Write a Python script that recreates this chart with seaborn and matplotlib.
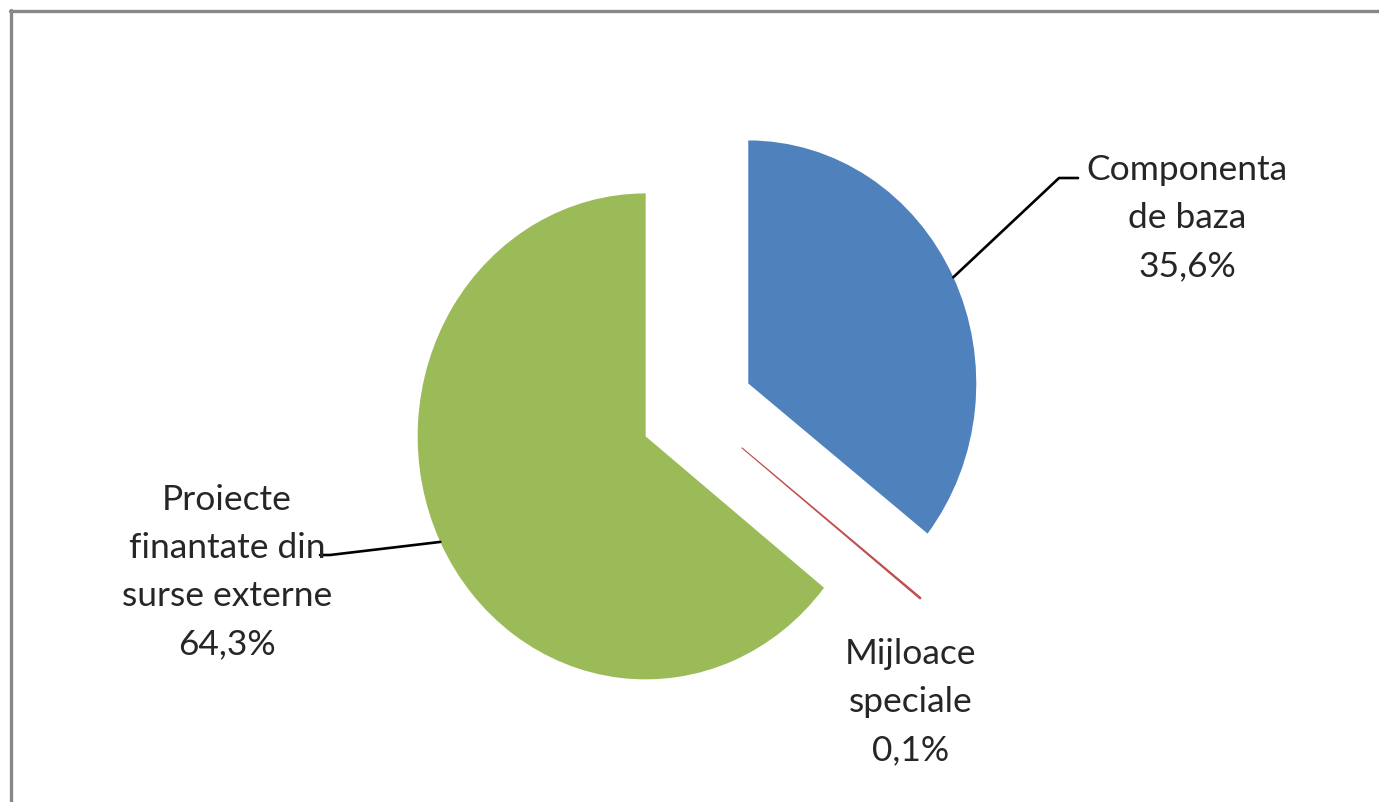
import numpy as np
import matplotlib
matplotlib.use("Agg")
import matplotlib.pyplot as plt
import seaborn as sns
from matplotlib.lines import Line2D

# ---- data ----
categories = ["Componenta\nde baza", "Mijloace\nspeciale", "Proiecte\nfinantate din\nsurse externe"]
shares = [35.6, 0.1, 64.3]
value_labels = ["35,6%", "0,1%", "64,3%"]
colors = ["#4F81BD", "#C0504D", "#9BBB59"]

sns.set_theme(style="white")
plt.rcParams["font.family"] = ["Lato", "DejaVu Sans"]

W, H = 1379, 802
fig = plt.figure(figsize=(W / 100, H / 100), dpi=100)
ax = fig.add_axes([0, 0, 1, 1])

# pixel geometry of the (ellipse-looking) pie
cx, cy = 697, 410      # pie centre in px (from top)
rx, ry = 228, 243      # radii in px

def px(x, y):
    """pixel (from top-left) -> data coords"""
    return (x - cx) / rx, (cy - y) / ry

wedges, _ = ax.pie(shares, colors=colors, startangle=90, counterclock=False,
                   explode=[0.25, 0.25, 0.25], radius=1.0,
                   wedgeprops=dict(linewidth=0))
# thin red wedge shows as a line
wedges[1].set_edgecolor(colors[1])
wedges[1].set_linewidth(0.8)

ax.set_aspect("auto")
ax.set_xlim(-cx / rx, (W - cx) / rx)
ax.set_ylim(-(H - cy) / ry, cy / ry)
ax.axis("off")

fs = 25.5
text_kw = dict(ha="center", va="center", fontsize=fs, color="#262626", linespacing=1.62)

label_px = [(1187, 218), (911, 702), (227, 572)]
for w, cat, vl, (lx, ly) in zip(wedges, categories, value_labels, label_px):
    tx, ty = px(lx, ly)
    ax.text(tx, ty, f"{cat}\n{vl}", **text_kw)

# leader lines from wedge mid-arc to label
def arc_point(w):
    ang = np.deg2rad((w.theta1 + w.theta2) / 2)
    c = w.center
    return c[0] + np.cos(ang), c[1] + np.sin(ang)

# blue
sx, sy = arc_point(wedges[0])
ex, ey = px(1059, 178)
fx, fy = px(1078, 178)
ax.add_line(Line2D([sx, ex, fx], [sy, ey, fy], color="black", lw=1.9))
# green
sx, sy = arc_point(wedges[2])
ex, ey = px(330, 555)
fx, fy = px(320, 555)
ax.add_line(Line2D([sx, ex, fx], [sy, ey, fy], color="black", lw=1.9))

# outer frame (top and left edges visible)
fig.add_artist(Line2D([10 / W, 1], [1 - 11 / H, 1 - 11 / H], transform=fig.transFigure,
                      color="#888888", lw=2.4))
fig.add_artist(Line2D([11 / W, 11 / W], [0, 1 - 10 / H], transform=fig.transFigure,
                      color="#888888", lw=2.4))

fig.savefig("out.png", dpi=100, facecolor="white")
